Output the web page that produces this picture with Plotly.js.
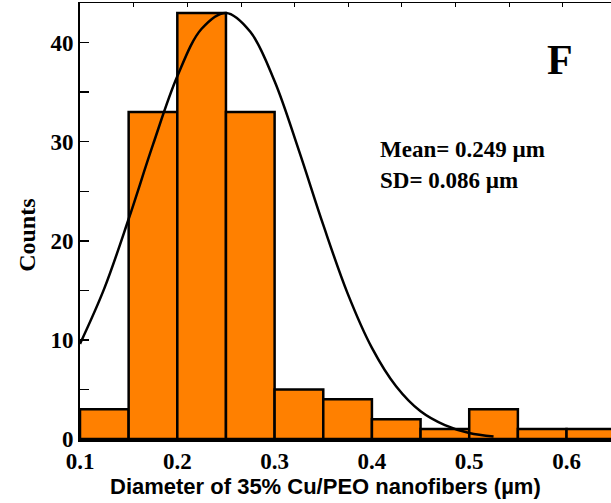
<!DOCTYPE html>
<html>
<head>
<meta charset="utf-8">
<script src="https://cdn.plot.ly/plotly-3.0.1.min.js"></script>
<style>
  html, body { margin: 0; padding: 0; background: #fff; }
  #chart { width: 611px; height: 503px; }
</style>
</head>
<body>
<div id="chart"></div>
<script>
// Histogram of fiber diameters: bin centers (µm) and counts per 0.05 µm bin
const binCenters = [0.125, 0.175, 0.225, 0.275, 0.325, 0.375, 0.425, 0.475, 0.525, 0.575, 0.625];
const counts     = [3, 33, 43, 33, 5, 4, 2, 1, 3, 1, 1];
const binWidth = 0.05;

// Fitted normal curve, sampled points
const fitX = [0.100, 0.125, 0.150, 0.175, 0.200, 0.225, 0.250, 0.275, 0.300, 0.325,
              0.350, 0.375, 0.400, 0.425, 0.450, 0.475, 0.500, 0.525];
const fitY = [9.6, 15.2, 22.2, 29.7, 36.6, 41.4, 43.0, 41.1, 36.1, 29.1,
              21.6, 14.7, 9.2, 5.3, 2.8, 1.4, 0.6, 0.25];

const yTickVals = [0, 10, 20, 30, 40];
const yTickText = ['0', '10', '20', '30', '40'];
const xTickVals = [0.1, 0.2, 0.3, 0.4, 0.5, 0.6];
const xTickText = ['0.1', '0.2', '0.3', '0.4', '0.5', '0.6'];

const serif = 'Liberation Serif, Times New Roman, serif';
const sans = 'Liberation Sans, Arial, sans-serif';

const traces = [
  {
    type: 'bar',
    x: binCenters,
    y: counts,
    width: binWidth,
    marker: { color: '#FF8000', line: { color: '#000', width: 2.5 } },
    hoverinfo: 'skip'
  },
  {
    type: 'scatter',
    mode: 'lines',
    x: fitX,
    y: fitY,
    line: { color: '#000', width: 2.5, shape: 'spline' },
    hoverinfo: 'skip'
  },
  // invisible trace on the top axis so its ticks are drawn
  {
    type: 'scatter', x: [0], y: [0], xaxis: 'x2', mode: 'markers',
    marker: { opacity: 0 }, hoverinfo: 'skip'
  }
];

const layout = {
  width: 611,
  height: 503,
  margin: { l: 80, r: 0, t: 3, b: 64 },
  paper_bgcolor: '#fff',
  plot_bgcolor: '#fff',
  showlegend: false,
  bargap: 0,
  xaxis: {
    range: [0.1, 0.6457],
    tickvals: xTickVals,
    ticktext: xTickText,
    ticks: 'inside',
    ticklen: 0,
    showgrid: false,
    zeroline: false,
    showline: true,
    linecolor: '#000',
    linewidth: 2.5,
    tickfont: { family: serif, size: 23, color: '#000', weight: 'bold' }
  },
  xaxis2: {
    overlaying: 'x',
    side: 'top',
    range: [-1.007, 8.90],
    tick0: 0,
    dtick: 1,
    ticks: 'inside',
    ticklen: 4,
    tickcolor: '#000',
    showticklabels: false,
    showgrid: false,
    zeroline: false,
    showline: true,
    linecolor: '#000',
    linewidth: 1.5
  },
  yaxis: {
    range: [0, 44],
    tickvals: yTickVals,
    ticktext: yTickText,
    ticks: 'inside',
    ticklen: 9,
    tickwidth: 1.5,
    tickcolor: '#000',
    minor: { dtick: 5, ticks: 'inside', ticklen: 9, tickcolor: '#000', tickwidth: 1.5 },
    showgrid: false,
    zeroline: false,
    showline: true,
    linecolor: '#000',
    linewidth: 2,
    tickfont: { family: serif, size: 23, color: '#000', weight: 'bold' }
  },
  annotations: [
    {
      xref: 'paper', yref: 'paper', x: 0.463, y: -0.110,
      xanchor: 'center', yanchor: 'middle', showarrow: false,
      text: '<b>Diameter of 35% Cu/PEO nanofibers (µm)</b>',
      font: { family: sans, size: 22, color: '#000' }
    },
    {
      xref: 'paper', yref: 'paper', x: -0.0998, y: 0.466,
      xanchor: 'center', yanchor: 'middle', showarrow: false, textangle: -90,
      text: '<b>Counts</b>',
      font: { family: serif, size: 24, color: '#000' }
    },
    {
      xref: 'paper', yref: 'paper', x: 0.561, y: 0.663,
      xanchor: 'left', yanchor: 'middle', showarrow: false,
      text: '<b>Mean= 0.249 µm</b>',
      font: { family: serif, size: 23, color: '#000' }
    },
    {
      xref: 'paper', yref: 'paper', x: 0.561, y: 0.594,
      xanchor: 'left', yanchor: 'middle', showarrow: false,
      text: '<b>SD= 0.086 µm</b>',
      font: { family: serif, size: 23, color: '#000' }
    },
    {
      xref: 'paper', yref: 'paper', x: 0.904, y: 0.869,
      xanchor: 'center', yanchor: 'middle', showarrow: false,
      text: '<b>F</b>',
      font: { family: serif, size: 42, color: '#000' }
    }
  ]
};

Plotly.newPlot('chart', traces, layout, { displayModeBar: false, staticPlot: true });
</script>
</body>
</html>
